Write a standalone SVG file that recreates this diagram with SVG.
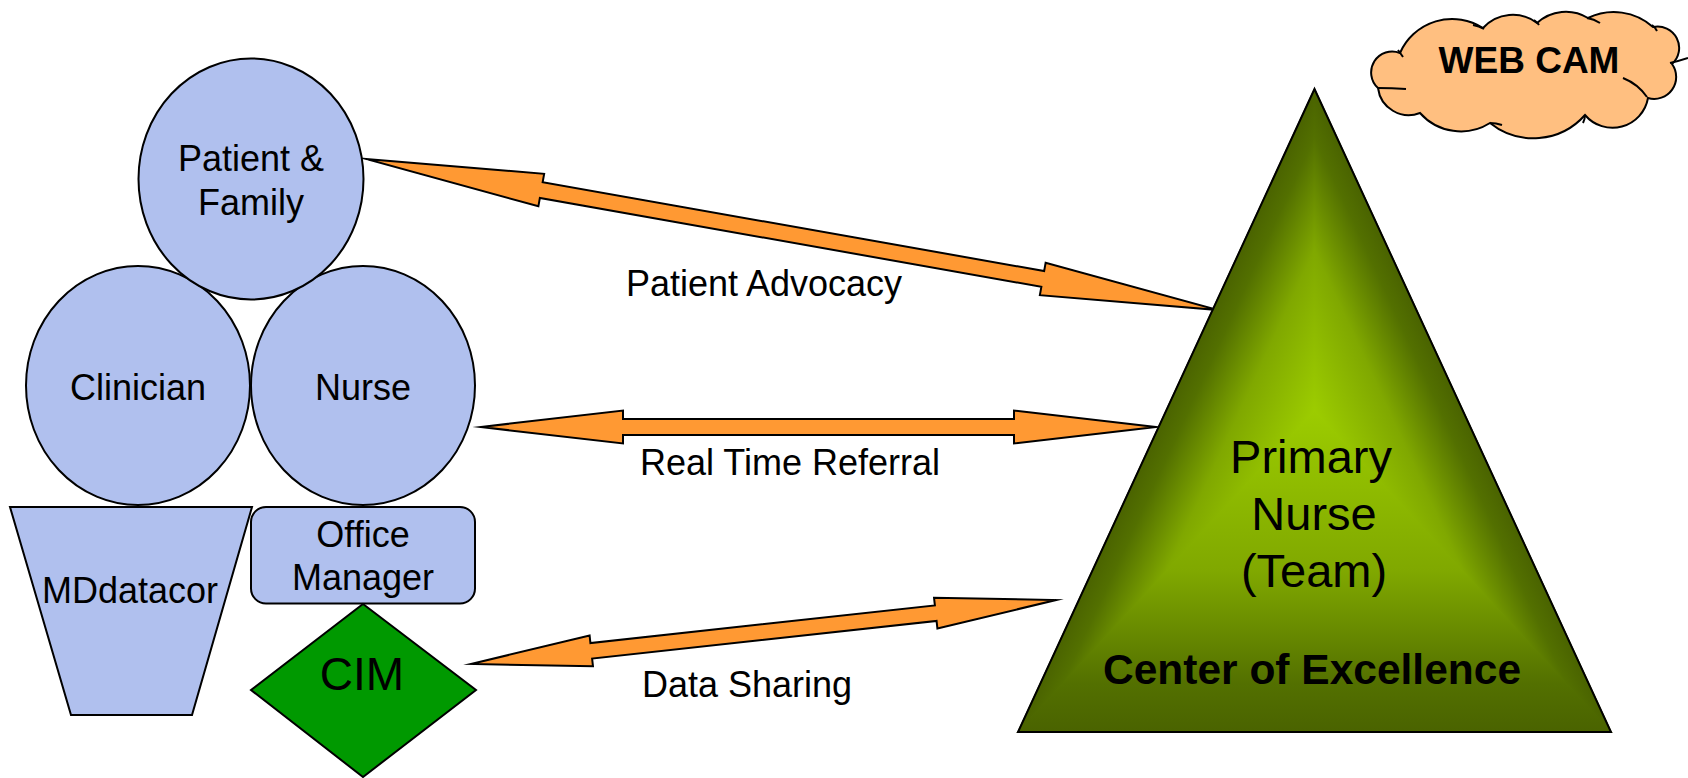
<svg xmlns="http://www.w3.org/2000/svg" width="1688" height="778" viewBox="0 0 1688 778">
<style>
.lbl{font-family:"Liberation Sans",Arial,sans-serif;font-size:36px;fill:#000;text-anchor:middle}
.blue{fill:#b0c0ee;stroke:#000;stroke-width:2}
.arrow{fill:#ff9933;stroke:#000;stroke-width:2;stroke-linejoin:miter;stroke-miterlimit:12}
</style>
<defs>
<linearGradient id="gL" gradientUnits="userSpaceOnUse" x1="1192.3" y1="354.1" x2="1314.5" y2="410.5">
<stop offset="0" stop-color="#4a6300"/><stop offset="0.15" stop-color="#537000"/><stop offset="0.5" stop-color="#80a800"/><stop offset="1" stop-color="#9ccc00"/>
</linearGradient>
<linearGradient id="gR" gradientUnits="userSpaceOnUse" x1="1436.7" y1="354.1" x2="1314.5" y2="410.5">
<stop offset="0" stop-color="#4a6300"/><stop offset="0.15" stop-color="#537000"/><stop offset="0.5" stop-color="#80a800"/><stop offset="1" stop-color="#9ccc00"/>
</linearGradient>
<linearGradient id="gB" gradientUnits="userSpaceOnUse" x1="1314.5" y1="732" x2="1314.5" y2="410.5">
<stop offset="0" stop-color="#4a6300"/><stop offset="0.15" stop-color="#537000"/><stop offset="0.5" stop-color="#80a800"/><stop offset="1" stop-color="#9ccc00"/>
</linearGradient>
</defs>
<rect width="1688" height="778" fill="#fff"/>

<g id="connectors">
<g id="arrow-patient-advocacy">
<polygon class="arrow" transform="translate(366,159) rotate(10.05)" points="0,0 178,-16.5 178,-8 687.3,-8 687.3,-16.5 865.3,0 687.3,16.5 687.3,8 178,8 178,16.5"/>
<text class="lbl" x="764" y="296">Patient Advocacy</text>
</g>
<g id="arrow-real-time-referral">
<polygon class="arrow" transform="translate(481,427)" points="0,0 142,-16.5 142,-8 533,-8 533,-16.5 675,0 533,16.5 533,8 142,8 142,16.5"/>
<text class="lbl" x="790" y="475">Real Time Referral</text>
</g>
<g id="arrow-data-sharing">
<polygon class="arrow" transform="translate(471,664) rotate(-6.243)" points="0,0 121,-15.5 121,-7.8 467.5,-7.8 467.5,-15.5 588.5,0 467.5,15.5 467.5,7.8 121,7.8 121,15.5"/>
<text class="lbl" x="747" y="697">Data Sharing</text>
</g>
</g>

<g id="node-clinician">
<ellipse class="blue" cx="138" cy="385.5" rx="112" ry="119.5"/>
<text class="lbl" x="138" y="400">Clinician</text>
</g>
<g id="node-nurse">
<ellipse class="blue" cx="363" cy="385.5" rx="112" ry="119.5"/>
<text class="lbl" x="363" y="400">Nurse</text>
</g>
<g id="node-patient-family">
<ellipse class="blue" cx="251" cy="179" rx="112.5" ry="120.5"/>
<text class="lbl" x="251" y="171">Patient &amp;</text>
<text class="lbl" x="251" y="215">Family</text>
</g>
<g id="node-mddatacor">
<polygon class="blue" points="10,507 252,507 192,715 71,715"/>
<text class="lbl" x="130" y="603">MDdatacor</text>
</g>
<g id="node-office-manager">
<rect class="blue" x="251" y="507" width="224" height="96.5" rx="15" ry="15"/>
<text class="lbl" x="363" y="547">Office</text>
<text class="lbl" x="363" y="590">Manager</text>
</g>
<g id="node-cim">
<polygon points="363,604 476,690 363,777 251,690" fill="#009900" stroke="#000" stroke-width="2"/>
<text class="lbl" x="362" y="690" style="font-size:46px">CIM</text>
</g>

<g id="node-primary-nurse">
<polygon points="1314.5,410.5 1314.5,89 1018,732" fill="url(#gL)" stroke="url(#gL)" stroke-width="1.5"/>
<polygon points="1314.5,410.5 1314.5,89 1611,732" fill="url(#gR)" stroke="url(#gR)" stroke-width="1.5"/>
<polygon points="1314.5,410.5 1018,732 1611,732" fill="url(#gB)" stroke="url(#gB)" stroke-width="1.5"/>
<polygon points="1314.5,89 1611,732 1018,732" fill="none" stroke="#000" stroke-width="2"/>
<text class="lbl" x="1311" y="473" style="font-size:47px">Primary</text>
<text class="lbl" x="1314" y="530" style="font-size:47px">Nurse</text>
<text class="lbl" x="1314" y="587" style="font-size:47px">(Team)</text>
<text class="lbl" x="1312" y="684" style="font-size:42.5px;font-weight:bold">Center of Excellence</text>
</g>

<g id="node-web-cam">
<path d="M1400,53 A57,57 0 0 1 1483,28 A40,40 0 0 1 1537,23 A42.5,42.5 0 0 1 1588,18 A59,59 0 0 1 1653,27 A21.5,21.5 0 0 1 1672,64 A22,22 0 0 1 1648,98 A36,36 0 0 1 1585,115 A69,69 0 0 1 1490,123 A54.6,54.6 0 0 1 1420,113 A31,31 0 0 1 1378,88 A21,21 0 0 1 1400,53 Z" fill="#ffbf80" stroke="#000" stroke-width="2"/>
<path d="M1473,25 Q1479,26 1484,29 M1534,20 Q1537,22 1539,25 M1587,18 Q1594,19 1600,23 M1652,25 Q1655,27 1657,31 M1670,63 Q1679,61 1688,58 M1623,78 Q1638,84 1647,97 M1585,115 Q1585,119 1583,123 M1490,123 Q1496,123 1502,125 M1378,88 Q1392,88 1406,89 M1398,50 Q1401,54 1403,57" fill="none" stroke="#000" stroke-width="2"/>
<text class="lbl" x="1529" y="73" style="font-size:37px;font-weight:bold">WEB CAM</text>
</g>
</svg>
